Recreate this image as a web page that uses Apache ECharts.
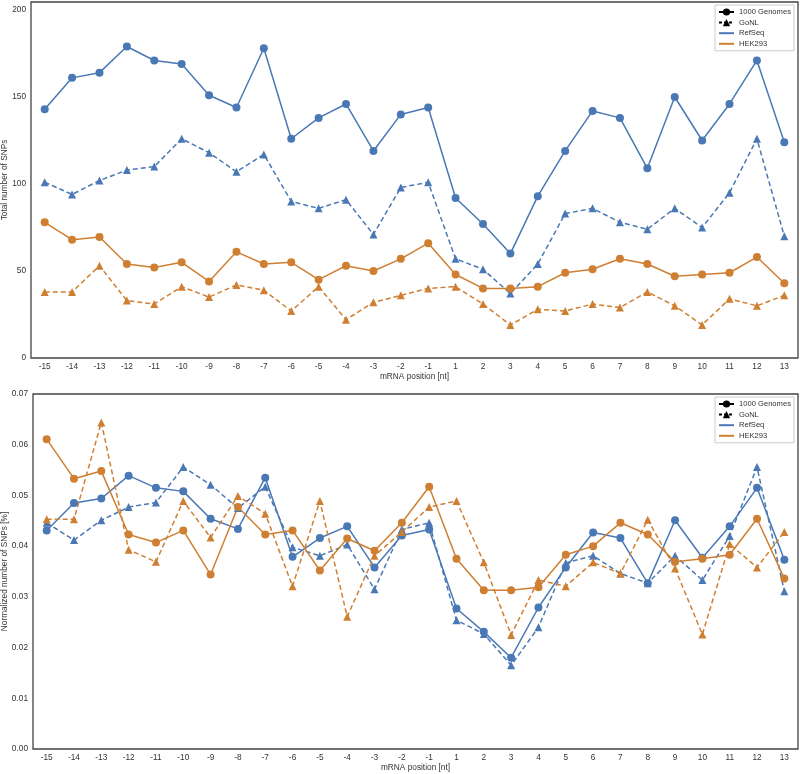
<!DOCTYPE html>
<html>
<head>
<meta charset="utf-8">
<script src="https://cdn.jsdelivr.net/npm/echarts@6/dist/echarts.min.js"></script>
<style>html,body{margin:0;padding:0;background:#fff}#c{width:800px;height:774px}</style>
</head>
<body>
<div id="c"></div>
<script>
const positions = ['-15','-14','-13','-12','-11','-10','-9','-8','-7','-6','-5','-4','-3','-2','-1','1','2','3','4','5','6','7','8','9','10','11','12','13'];

// Top panel: total number of SNPs
const totalRefSeq1000G = [143,161,164,179,171,169,151,144,178,126,138,146,119,140,144,92,77,60,93,119,142,138,109,150,125,146,171,124];
const totalRefSeqGoNL  = [101,94,102,108,110,126,118,107,117,90,86,91,71,98,101,57,51,37,54,83,86,78,74,86,75,95,126,70];
const totalHEK1000G    = [78,68,69.5,54,52,55,44,61,54,55,45,53,50,57,66,48,40,40,41,49,51,57,54,47,48,49,58,43];
const totalHEKGoNL     = [38,38,53,33,31,41,35,42,39,27,41,22,32,36,40,41,31,19,28,27,31,29,38,30,19,34,30,36];

// Bottom panel: normalized number of SNPs [%]
const normRefSeq1000G = [0.0431,0.0485,0.0494,0.0539,0.0515,0.0508,0.0454,0.0434,0.0535,0.0379,0.0416,0.0439,0.0358,0.0421,0.0433,0.0277,0.0231,0.0180,0.0279,0.0358,0.0427,0.0416,0.0327,0.0451,0.0377,0.0439,0.0515,0.0373];
const normRefSeqGoNL  = [0.0446,0.0412,0.0451,0.0477,0.0486,0.0556,0.0521,0.0475,0.0517,0.0398,0.0381,0.0403,0.0315,0.0433,0.0446,0.0254,0.0227,0.0165,0.0240,0.0367,0.0381,0.0346,0.0327,0.0381,0.0333,0.0420,0.0556,0.0311];
const normHEK1000G    = [0.0611,0.0533,0.0548,0.0423,0.0407,0.0431,0.0344,0.0477,0.0423,0.0431,0.0352,0.0415,0.0391,0.0446,0.0517,0.0375,0.0313,0.0313,0.0319,0.0383,0.0400,0.0446,0.0423,0.0369,0.0375,0.0383,0.0454,0.0336];
const normHEKGoNL     = [0.0453,0.0453,0.0644,0.0393,0.0369,0.0489,0.0417,0.0499,0.0464,0.0321,0.0489,0.0261,0.0381,0.0428,0.0477,0.0489,0.0368,0.0225,0.0333,0.0321,0.0368,0.0346,0.0452,0.0356,0.0226,0.0404,0.0358,0.0428];

const legendNames = ['1000 Genomes','GoNL','RefSeq','HEK293'];

const BLUE = '#4a78b5';
const ORANGE = '#cf7f32';
const FONT = 'Liberation Sans, Arial, sans-serif';

function lineSeries(name, data, color, dashed, symbol, gi) {
  return {
    name: name, type: 'line', data: data,
    xAxisIndex: gi, yAxisIndex: gi,
    symbol: symbol, symbolSize: 8,
    showSymbol: true,
    lineStyle: { color: color, width: 1.5, type: dashed ? [5, 3] : 'solid' },
    itemStyle: { color: color },
    emphasis: { disabled: true },
    animation: false, z: 3
  };
}

const xAxisBase = (gi) => ({
  type: 'category', gridIndex: gi, data: positions, boundaryGap: true,
  axisLine: { show: false }, axisTick: { show: false },
  axisLabel: { color: '#333', fontSize: 8.3, fontFamily: FONT, margin: 5, interval: 0 },
  name: 'mRNA position [nt]', nameLocation: 'middle', nameGap: 15, nameMoveOverlap: false,
  nameTextStyle: { color: '#333', fontSize: 8.3, fontFamily: FONT },
  splitLine: { show: false }
});

const legendBase = (top) => ({
  data: legendNames, orient: 'vertical', left: 715, top: top,
  itemWidth: 15, itemHeight: 9, itemGap: 2.6,
  padding: [3, 3, 3, 3],
  borderColor: '#cccccc', borderWidth: 1, backgroundColor: '#fff',
  textStyle: { color: '#333', fontSize: 7.6, fontFamily: FONT, lineHeight: 8 },
  selectedMode: false
});

const dummies = [
  { name: '1000 Genomes', type: 'line', data: [], symbol: 'circle', lineStyle: { color: '#000', width: 1.5 }, itemStyle: { color: '#000' } },
  { name: 'GoNL', type: 'line', data: [], symbol: 'triangle', lineStyle: { color: '#000', width: 1.5, type: [3, 2] }, itemStyle: { color: '#000' } },
  { name: 'RefSeq', type: 'line', data: [], symbol: 'circle', lineStyle: { color: BLUE, width: 1.5 }, itemStyle: { color: 'rgba(0,0,0,0)' } },
  { name: 'HEK293', type: 'line', data: [], symbol: 'circle', lineStyle: { color: ORANGE, width: 1.5 }, itemStyle: { color: 'rgba(0,0,0,0)' } }
];

const chart = echarts.init(document.getElementById('c'), null, { renderer: 'canvas' });
chart.setOption({
  backgroundColor: '#fff',
  animation: false,
  textStyle: { fontFamily: FONT },
  grid: [
    { left: 31, top: 2, right: 2, height: 356, show: true, borderColor: '#444', borderWidth: 1.3, backgroundColor: 'transparent', containLabel: false, outerBoundsMode: 'none' },
    { left: 33, top: 394, right: 2, height: 355, show: true, borderColor: '#444', borderWidth: 1.3, backgroundColor: 'transparent', containLabel: false, outerBoundsMode: 'none' }
  ],
  legend: [legendBase(5), legendBase(397)],
  xAxis: [xAxisBase(0), xAxisBase(1)],
  yAxis: [
    {
      type: 'value', gridIndex: 0, min: 0, max: 204.6, interval: 50,
      axisLine: { show: false }, axisTick: { show: false }, splitLine: { show: false },
      axisLabel: { color: '#333', fontSize: 8.3, fontFamily: FONT, margin: 5,
        formatter: v => (Math.abs(v % 50) < 1e-6 ? String(v) : '') },
      name: 'Total number of SNPs', nameLocation: 'middle', nameGap: 22, nameMoveOverlap: false,
      nameTextStyle: { color: '#333', fontSize: 8.3, fontFamily: FONT }
    },
    {
      type: 'value', gridIndex: 1, min: 0, max: 0.07, interval: 0.01,
      axisLine: { show: false }, axisTick: { show: false }, splitLine: { show: false },
      axisLabel: { color: '#333', fontSize: 8.3, fontFamily: FONT, margin: 5,
        formatter: v => v.toFixed(2) },
      name: 'Normalized number of SNPs [%]', nameLocation: 'middle', nameGap: 24, nameMoveOverlap: false,
      nameTextStyle: { color: '#333', fontSize: 8.3, fontFamily: FONT }
    }
  ],
  series: [
    ...dummies,
    lineSeries('RefSeq 1000G total', totalRefSeq1000G, BLUE, false, 'circle', 0),
    lineSeries('RefSeq GoNL total', totalRefSeqGoNL, BLUE, true, 'triangle', 0),
    lineSeries('HEK293 1000G total', totalHEK1000G, ORANGE, false, 'circle', 0),
    lineSeries('HEK293 GoNL total', totalHEKGoNL, ORANGE, true, 'triangle', 0),
    lineSeries('RefSeq 1000G norm', normRefSeq1000G, BLUE, false, 'circle', 1),
    lineSeries('RefSeq GoNL norm', normRefSeqGoNL, BLUE, true, 'triangle', 1),
    lineSeries('HEK293 1000G norm', normHEK1000G, ORANGE, false, 'circle', 1),
    lineSeries('HEK293 GoNL norm', normHEKGoNL, ORANGE, true, 'triangle', 1)
  ]
});
</script>
</body>
</html>
